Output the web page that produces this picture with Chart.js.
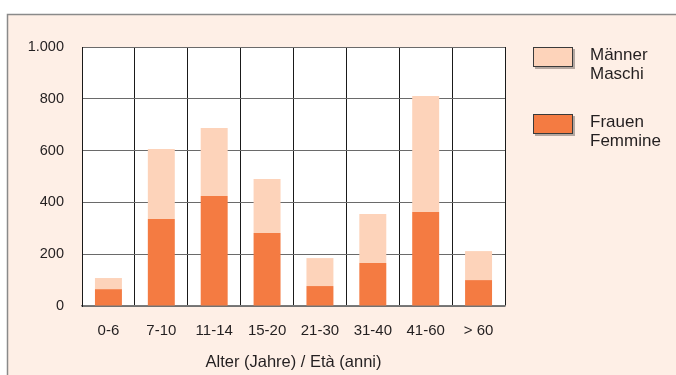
<!DOCTYPE html>
<html>
<head>
<meta charset="utf-8">
<script src="https://cdn.jsdelivr.net/npm/chart.js@4.4.1/dist/chart.umd.min.js"></script>
<style>
html,body{margin:0;padding:0;background:#ffffff;}
#wrap{position:relative;width:676px;height:375px;}
</style>
</head>
<body>
<div id="wrap"><canvas id="c" width="676" height="375"></canvas></div>
<script>
const categories = ['0-6', '7-10', '11-14', '15-20', '21-30', '31-40', '41-60', '> 60'];
const frauen = [65, 336, 425, 282, 77, 166, 363, 100];
const maenner = [43, 270, 262, 208, 108, 189, 448, 112];
const yTicks = [0, 200, 400, 600, 800, 1000];
const seriesNames = [['Männer', 'Maschi'], ['Frauen', 'Femmine']];
const axisTitle = 'Alter (Jahre) / Età (anni)';

const PANEL = '#FEEFE6';
const C_M = '#FDD3BA';
const C_F = '#F47B42';
const TXT = '#231F20';
const FONT = "'Liberation Sans', Arial, sans-serif";

const bgPlugin = {
  id: 'bg',
  beforeDraw(chart) {
    const ctx = chart.ctx;
    const a = chart.chartArea;
    ctx.save();
    ctx.fillStyle = PANEL;
    ctx.fillRect(7, 14, 676 - 7, 375 - 14);
    ctx.strokeStyle = '#8a8a8a';
    ctx.lineWidth = 1.5;
    ctx.beginPath();
    ctx.moveTo(7.5, 375);
    ctx.lineTo(7.5, 14.5);
    ctx.lineTo(676, 14.5);
    ctx.stroke();
    ctx.fillStyle = '#ffffff';
    ctx.fillRect(a.left, a.top, a.right - a.left, a.bottom - a.top);
    ctx.restore();
  },
  afterDraw(chart) {
    const ctx = chart.ctx;
    ctx.save();
    const boxes = [{y: 47, color: C_M}, {y: 114, color: C_F}];
    boxes.forEach((b, i) => {
      ctx.fillStyle = 'rgba(90,80,75,0.45)';
      ctx.fillRect(535, b.y + 2, 40, 20);
      ctx.fillStyle = b.color;
      ctx.fillRect(533, b.y, 40, 20);
      ctx.strokeStyle = '#3a3a3a';
      ctx.lineWidth = 1;
      ctx.strokeRect(533.5, b.y + 0.5, 39, 19);
      ctx.fillStyle = TXT;
      ctx.font = "17px " + FONT;
      ctx.textBaseline = 'middle';
      ctx.textAlign = 'left';
      ctx.fillText(seriesNames[i][0], 590, b.y + 8);
      ctx.fillText(seriesNames[i][1], 590, b.y + 27);
    });
    ctx.restore();
  }
};

new Chart(document.getElementById('c'), {
  type: 'bar',
  data: {
    labels: categories,
    datasets: [
      {label: 'Frauen / Femmine', data: frauen, backgroundColor: C_F, borderWidth: 0, categoryPercentage: 1, barPercentage: 0.51},
      {label: 'Männer / Maschi', data: maenner, backgroundColor: C_M, borderWidth: 0, categoryPercentage: 1, barPercentage: 0.51}
    ]
  },
  options: {
    responsive: false,
    animation: false,
    devicePixelRatio: 1,
    layout: {padding: {left: 0, top: 47, right: 171, bottom: 0}},
    plugins: {legend: {display: false}, tooltip: {enabled: false}},
    scales: {
      x: {
        stacked: true,
        afterFit(s) { s.height = 69; },
        grid: {color: '#1a1a1a', lineWidth: 1, drawTicks: false, offset: true},
        border: {display: true, color: '#7a7a7a', width: 1.5},
        ticks: {color: TXT, font: {family: FONT, size: 15}, padding: 16, maxRotation: 0, autoSkip: false},
        title: {display: true, text: axisTitle, color: TXT, font: {family: FONT, size: 16.5}, padding: {top: 0, bottom: 3}}
      },
      y: {
        stacked: true,
        min: 0, max: 1000,
        afterFit(s) { s.width = 82; },
        afterBuildTicks(s) { s.ticks = yTicks.map(v => ({value: v})); },
        grid: {color: '#6a6a6a', lineWidth: 1, drawTicks: false},
        border: {display: true, color: '#1a1a1a', width: 1},
        ticks: {
          color: TXT, font: {family: FONT, size: 14.5}, padding: 18,
          callback: v => v.toLocaleString('de-DE')
        }
      }
    }
  },
  plugins: [bgPlugin]
});
</script>
</body>
</html>
